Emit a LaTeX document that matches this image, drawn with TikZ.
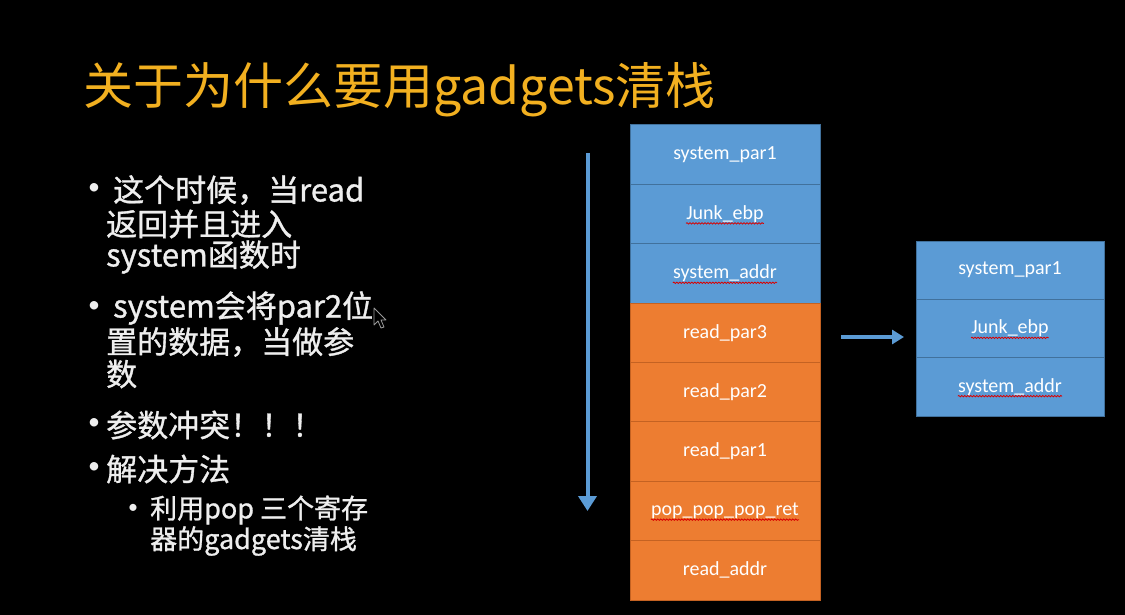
\documentclass[tikz,border=0pt]{standalone}
\usepackage{fontspec}
\setmainfont{Carlito}
\newfontfamily\cjk{Noto Sans CJK SC}
\newfontfamily\cjkb[FakeBold=1]{Noto Sans CJK SC}
\usetikzlibrary{arrows.meta,decorations.pathmorphing}
\definecolor{cblue}{RGB}{91,155,213}
\definecolor{cblueline}{RGB}{65,113,156}
\definecolor{corange}{RGB}{237,125,49}
\definecolor{corangeline}{RGB}{196,98,34}
\definecolor{ctitle}{RGB}{242,176,32}
\definecolor{cbody}{RGB}{238,238,238}
\tikzset{
  bluecell/.style={draw=cblueline,line width=1pt,fill=cblue,minimum width=190pt,inner sep=0pt,outer sep=0pt,anchor=north west},
  orangecell/.style={draw=corangeline,line width=1pt,fill=corange,minimum width=190pt,inner sep=0pt,outer sep=0pt,anchor=north west},
  celltext/.style={text=white,font=\fontsize{20}{22}\selectfont,inner sep=0pt},
  squiggle/.style={draw=red!85!black,line width=0.8pt,decorate,decoration={snake,amplitude=0.7pt,segment length=3pt}},
  body/.style={text=cbody,anchor=west,inner sep=0pt,font=\cjkb\fontsize{31}{33}\selectfont},
  subbody/.style={text=cbody,anchor=west,inner sep=0pt,font=\cjkb\fontsize{27}{30}\selectfont},
  dot/.style={text=cbody,inner sep=0pt,font=\fontsize{24}{26}\selectfont},
  subdot/.style={text=cbody,inner sep=0pt,font=\fontsize{20}{22}\selectfont},
  flow/.style={draw=cblue,line width=4pt,-{Triangle[width=18pt,length=15pt]}},
}
\begin{document}
\begin{tikzpicture}[x=1pt,y=-1pt]
\fill[black] (0,0) rectangle (1125,615);
\useasboundingbox (0,0) rectangle (1125,615);

% title
\node[text=ctitle,anchor=west,inner sep=0pt,font=\cjk\fontsize{50}{54}\selectfont] (title) at (83,90) {关于为什么要用gadgets清栈};

% bullets
\node[dot] (d1) at (94,189) {•};
\node[body] (l1) at (113,190) {这个时候，当read};
\node[body] (l2) at (106,224) {返回并且进入};
\node[body] (l3) at (106,257) {system函数时};
\node[dot] (d2) at (94,307) {•};
\node[body] (l4) at (113,308) {system会将par2位};
\node[body] (l5) at (106,342) {置的数据，当做参};
\node[body] (l6) at (106,374) {数};
\node[dot] (d3) at (94,424) {•};
\node[body] (l7) at (106,425) {参数冲突！！！};
\node[dot] (d4) at (94,468) {•};
\node[body] (l8) at (106,469) {解决方法};
\node[subdot] (d5) at (133,509) {•};
\node[subbody] (l9) at (150,510) {利用pop 三个寄存};
\node[subbody] (l10) at (150,541) {器的gadgets清栈};

% cursor
\draw[gray!80,line width=0.8pt,line join=round] (374,308) -- (374,325) -- (378,321) -- (381,328) -- (384,327) -- (381,320) -- (386,320) -- cycle;

% left stack
\node[bluecell,minimum height=59.375pt] (a1) at (630,125) {};
\node[bluecell,minimum height=59.375pt] (a2) at (630,184.375) {};
\node[bluecell,minimum height=59.375pt] (a3) at (630,243.75) {};
\node[orangecell,minimum height=59.375pt] (a4) at (630,303.125) {};
\node[orangecell,minimum height=59.375pt] (a5) at (630,362.5) {};
\node[orangecell,minimum height=59.375pt] (a6) at (630,421.875) {};
\node[orangecell,minimum height=59.375pt] (a7) at (630,481.25) {};
\node[orangecell,minimum height=59.375pt] (a8) at (630,540.625) {};
\node[celltext] (ta1) at (a1) {system\_par1};
\node[celltext] (ta2) at (a2) {Junk\_ebp};
\node[celltext] (ta3) at (a3) {system\_addr};
\node[celltext] (ta4) at (a4) {read\_par3};
\node[celltext] (ta5) at (a5) {read\_par2};
\node[celltext] (ta6) at (a6) {read\_par1};
\node[celltext] (ta7) at (a7) {pop\_pop\_pop\_ret};
\node[celltext] (ta8) at (a8) {read\_addr};
\draw[squiggle] ([yshift=-4pt]ta2.base west) -- ([yshift=-4pt]ta2.base east);
\draw[squiggle] ([yshift=-4pt]ta3.base west) -- ([yshift=-4pt]ta3.base east);
\draw[squiggle] ([yshift=-4pt]ta7.base west) -- ([yshift=-4pt]ta7.base east);

% right stack
\node[bluecell,minimum width=188pt,minimum height=58.33pt] (b1) at (916,241) {};
\node[bluecell,minimum width=188pt,minimum height=58.33pt] (b2) at (916,299.33) {};
\node[bluecell,minimum width=188pt,minimum height=58.33pt] (b3) at (916,357.67) {};
\node[celltext] (tb1) at (b1) {system\_par1};
\node[celltext] (tb2) at (b2) {Junk\_ebp};
\node[celltext] (tb3) at (b3) {system\_addr};
\draw[squiggle] ([yshift=-4pt]tb2.base west) -- ([yshift=-4pt]tb2.base east);
\draw[squiggle] ([yshift=-4pt]tb3.base west) -- ([yshift=-4pt]tb3.base east);

% arrows
\coordinate (vtop) at (587.5,153);
\coordinate (vbot) at (587.5,511);
\draw[flow] (vtop) -- (vbot);
\coordinate (hl) at (841,337);
\coordinate (hr) at (904,337);
\draw[draw=cblue,line width=3.5pt,-{Triangle[width=14pt,length=12pt]}] (hl) -- (hr);
\end{tikzpicture}
\end{document}
